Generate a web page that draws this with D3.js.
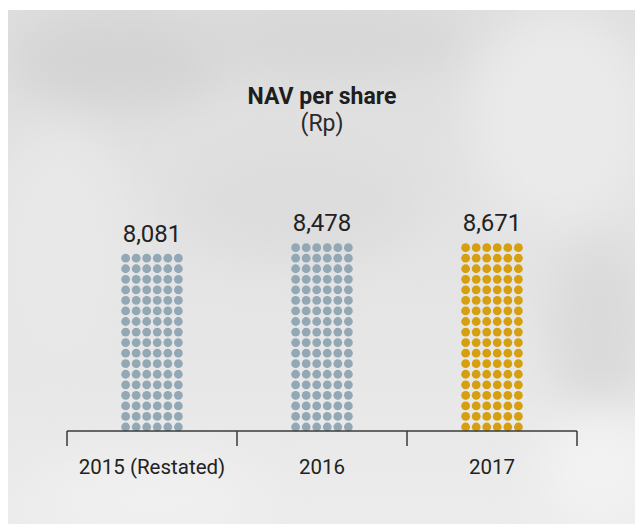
<!DOCTYPE html>
<html>
<head>
<meta charset="utf-8">
<script src="https://cdn.jsdelivr.net/npm/d3@7"></script>
<style>
  html, body { margin: 0; padding: 0; background: #fff; }
  svg { display: block; font-family: Roboto, "DejaVu Sans", sans-serif; }
</style>
</head>
<body>
<div id="viz"></div>
<script>
// chart data
const categories = ['2015 (Restated)', '2016', '2017'];
const values = [8081, 8478, 8671];
const valueLabels = ['8,081', '8,478', '8,671'];
const barColors = ['#92a8b5', '#92a8b5', '#d69f10'];
const title = 'NAV per share';
const unit = '(Rp)';

function drawViz() {
  const width = 635;
  const height = 524;

  const svg = d3.select('#viz')
    .html('')
    .append('svg')
    .attr('width', width)
    .attr('height', height);

  const defs = svg.append('defs');

  // soft photo-like background
  const bg = defs.append('linearGradient')
    .attr('id', 'bg')
    .attr('x1', 0).attr('y1', 0).attr('x2', 0).attr('y2', 1);
  bg.append('stop').attr('offset', '0%').attr('stop-color', '#dedede');
  bg.append('stop').attr('offset', '45%').attr('stop-color', '#e3e3e3');
  bg.append('stop').attr('offset', '100%').attr('stop-color', '#ececec');

  defs.append('filter')
    .attr('id', 'blur')
    .attr('x', '-50%').attr('y', '-50%').attr('width', '200%').attr('height', '200%')
    .append('feGaussianBlur')
    .attr('stdDeviation', 22);

  defs.append('clipPath').attr('id', 'panel')
    .append('rect')
    .attr('x', 8).attr('y', 10)
    .attr('width', width - 8).attr('height', height - 10);

  const panel = svg.append('g').attr('clip-path', 'url(#panel)');
  panel.append('rect')
    .attr('x', 8).attr('y', 10)
    .attr('width', width - 8).attr('height', height - 10)
    .attr('fill', 'url(#bg)');

  // a few blurred blobs to mimic the photo behind the chart
  const blobs = [
    [120, 60, 110, 50, '#d4d4d4'],
    [330, 40, 140, 40, '#d8d8d8'],
    [560, 120, 90, 110, '#eaeaea'],
    [60, 250, 70, 120, '#e8e8e8'],
    [300, 200, 120, 60, '#dddddd'],
    [600, 330, 50, 90, '#dadada'],
    [600, 470, 60, 60, '#f2f2f2'],
    [150, 500, 110, 40, '#f0f0f0']
  ];
  panel.selectAll('ellipse.blob')
    .data(blobs)
    .enter()
    .append('ellipse')
    .attr('class', 'blob')
    .attr('cx', d => d[0])
    .attr('cy', d => d[1])
    .attr('rx', d => d[2])
    .attr('ry', d => d[3])
    .attr('fill', d => d[4])
    .attr('filter', 'url(#blur)');

  // scales
  const x = d3.scaleBand()
    .domain(categories)
    .range([67, 577])
    .paddingInner(0)
    .paddingOuter(0);

  const baseY = 431;
  const step = 10.55;
  const y = d3.scaleLinear()
    .domain([0, d3.max(values)])
    .range([baseY, baseY - 18 * step]);

  const cols = 6;
  const r = 4.4;

  // title
  svg.append('text')
    .attr('x', 322)
    .attr('y', 104)
    .attr('text-anchor', 'middle')
    .attr('font-size', 23)
    .attr('font-weight', 'bold')
    .attr('fill', '#1e1e1e')
    .text(title);

  svg.append('text')
    .attr('x', 322)
    .attr('y', 131)
    .attr('text-anchor', 'middle')
    .attr('font-size', 23)
    .attr('fill', '#2a2a2a')
    .text(unit);

  // dot bars
  values.forEach((v, i) => {
    const cx = x(categories[i]) + x.bandwidth() / 2;
    const rows = Math.round((y(0) - y(v)) / step);
    const dots = [];
    for (let row = 0; row < rows; row++) {
      for (let c = 0; c < cols; c++) {
        dots.push({
          x: cx + (c - (cols - 1) / 2) * step,
          y: baseY - 4 - row * step
        });
      }
    }
    svg.append('g')
      .selectAll('circle')
      .data(dots)
      .enter()
      .append('circle')
      .attr('cx', d => d.x)
      .attr('cy', d => d.y)
      .attr('r', r)
      .attr('fill', barColors[i]);

    const top = baseY - 4 - (rows - 1) * step - r;
    svg.append('text')
      .attr('x', cx)
      .attr('y', top - 12)
      .attr('text-anchor', 'middle')
      .attr('font-size', 24)
      .attr('fill', '#222')
      .text(valueLabels[i]);
  });

  // axis with ticks at band edges
  const axisG = svg.append('g').attr('stroke', '#3a3a3a').attr('stroke-width', 1.5);
  axisG.append('line')
    .attr('x1', x.range()[0]).attr('x2', x.range()[1])
    .attr('y1', baseY).attr('y2', baseY);

  const edges = categories.map(c => x(c)).concat([x.range()[1]]);
  axisG.selectAll('line.tick')
    .data(edges)
    .enter()
    .append('line')
    .attr('class', 'tick')
    .attr('x1', d => d).attr('x2', d => d)
    .attr('y1', baseY).attr('y2', baseY + 15);

  svg.selectAll('text.cat')
    .data(categories)
    .enter()
    .append('text')
    .attr('class', 'cat')
    .attr('x', d => x(d) + x.bandwidth() / 2)
    .attr('y', 474)
    .attr('text-anchor', 'middle')
    .attr('font-size', 20.5)
    .attr('fill', '#222')
    .text(d => d);
}

drawViz();
</script>
</body>
</html>
